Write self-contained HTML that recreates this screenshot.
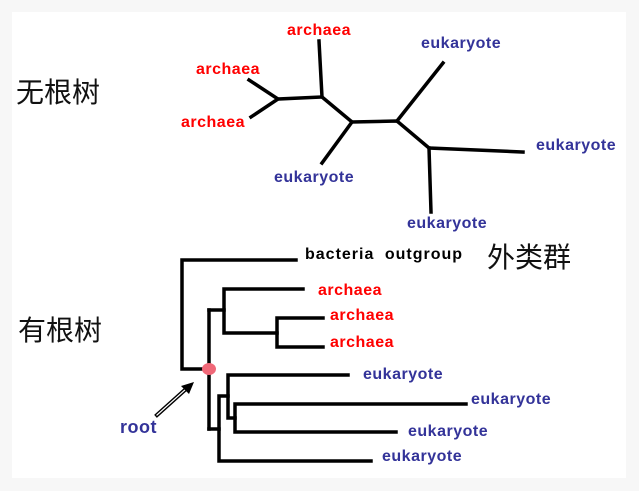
<!DOCTYPE html>
<html><head><meta charset="utf-8"><style>
html,body{margin:0;padding:0;background:#f7f7f7;width:639px;height:491px;overflow:hidden}
svg{display:block}
.t{font-family:"Liberation Sans","Noto Sans CJK SC",sans-serif;font-weight:bold;font-size:16px;letter-spacing:0.5px}
.r{fill:#ff0000}.b{fill:#333399}
.cn{font-family:"Liberation Sans","Noto Sans CJK SC",sans-serif;font-size:28px;fill:#111}
line,polyline{stroke:#000;stroke-width:3.5;fill:none;stroke-linecap:square}
</style></head><body>
<svg width="639" height="491">
<rect x="12" y="12" width="614" height="466" fill="#fff"/>
<g>
<polyline points="249,80 278,99 251,117"/>
<polyline points="278,99 322,97 319,41"/>
<polyline points="322,97 352,122 397,121 429,148 523,152"/>
<line x1="352" y1="122" x2="322" y2="163"/>
<line x1="397" y1="121" x2="443" y2="63"/>
<line x1="429" y1="148" x2="431" y2="212"/>
</g>
<text class="cn" x="16" y="102">无根树</text>
<text class="t r" x="287" y="35">archaea</text>
<text class="t r" x="196" y="74">archaea</text>
<text class="t r" x="181" y="127">archaea</text>
<text class="t b" x="421" y="48">eukaryote</text>
<text class="t b" x="274" y="182">eukaryote</text>
<text class="t b" x="536" y="150">eukaryote</text>
<text class="t b" x="407" y="228">eukaryote</text>

<g>
<polyline points="296,260 182,260 182,369 209,369"/>
<line x1="209" y1="310" x2="209" y2="429"/>
<polyline points="209,310 224,310"/>
<polyline points="303,289 224,289 224,333 277,333"/>
<polyline points="323,318 277,318 277,347 323,347"/>
<polyline points="209,429 219,429"/>
<polyline points="371,461 219,461 219,396 228,396"/>
<polyline points="348,375 228,375 228,418 235,418"/>
<polyline points="466,404 235,404 235,432 396,432"/>
</g>
<ellipse cx="209" cy="369" rx="7" ry="6" fill="#f06878"/>
<line x1="157" y1="415" x2="186" y2="389" style="stroke-width:4"/>
<line x1="157" y1="415" x2="186" y2="389" style="stroke:#fff;stroke-width:1.2"/>
<polygon points="194,382 181,386 189,394" fill="#000"/>
<text class="t b" x="120" y="433" style="font-size:18px">root</text>
<text class="cn" x="18" y="340">有根树</text>
<text class="t" x="305" y="259" fill="#000" style="letter-spacing:1px;word-spacing:5px">bacteria outgroup</text>
<text class="cn" x="487" y="267">外类群</text>
<text class="t r" x="318" y="295">archaea</text>
<text class="t r" x="330" y="320">archaea</text>
<text class="t r" x="330" y="347">archaea</text>
<text class="t b" x="363" y="379">eukaryote</text>
<text class="t b" x="471" y="404">eukaryote</text>
<text class="t b" x="408" y="436">eukaryote</text>
<text class="t b" x="382" y="461">eukaryote</text>
</svg>
</body></html>
